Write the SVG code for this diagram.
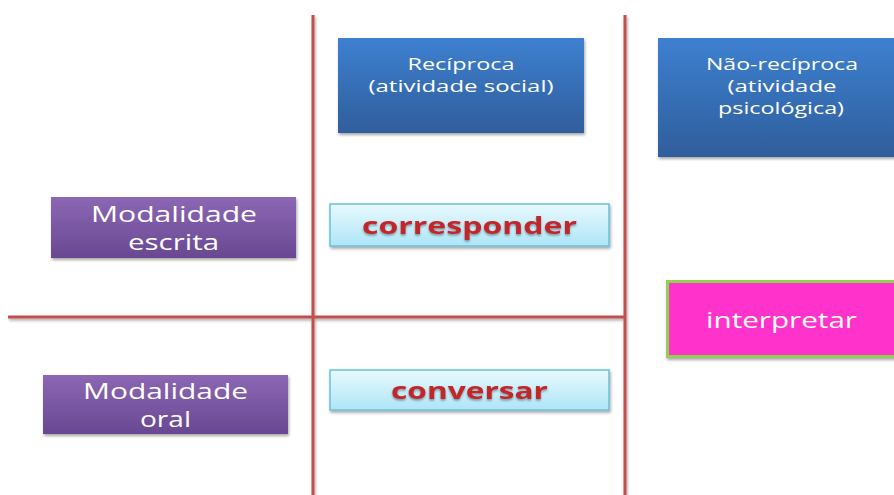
<svg xmlns="http://www.w3.org/2000/svg" width="894" height="495" viewBox="0 0 894 495">
<defs>
<linearGradient id="gBlue" x1="0" y1="0" x2="0" y2="1"><stop offset="0" stop-color="#3d80d0"/><stop offset="1" stop-color="#2f5e9c"/></linearGradient>
<linearGradient id="gPurple" x1="0" y1="0" x2="0" y2="1"><stop offset="0" stop-color="#8c67b4"/><stop offset="1" stop-color="#694891"/></linearGradient>
<linearGradient id="gCyan" x1="0" y1="0" x2="0" y2="1"><stop offset="0" stop-color="#e8f9fe"/><stop offset="1" stop-color="#aee5f7"/></linearGradient>
<filter id="sh" x="-10%" y="-10%" width="120%" height="130%"><feDropShadow dx="1" dy="2" stdDeviation="1.5" flood-color="#000" flood-opacity="0.35"/></filter>
<filter id="tsh" x="-10%" y="-20%" width="120%" height="150%"><feDropShadow dx="0" dy="1.5" stdDeviation="1" flood-color="#000" flood-opacity="0.4"/></filter>
</defs>
<style>
.ln{stroke:#c0504d;stroke-width:3;fill:none}
.t{font-family:"Open Sans","Noto Sans",sans-serif;fill:#fff;text-anchor:middle}
.s{font-size:17px}
.m{font-size:21.5px}
.r{font-family:"Open Sans","Noto Sans",sans-serif;font-weight:bold;font-size:24px;fill:#c0262a;text-anchor:middle}
</style>
<rect width="894" height="495" fill="#fff"/>
<g id="connectors" filter="url(#sh)">
<line class="ln" x1="313" y1="15" x2="313" y2="495"/>
<line class="ln" x1="625" y1="15" x2="625" y2="495"/>
<line class="ln" x1="8" y1="317" x2="625" y2="317"/>
</g>
<g id="reciproca">
<rect x="338" y="38" width="246" height="95" fill="url(#gBlue)" filter="url(#sh)"/>
<text class="t s" x="461" y="70" textLength="107" lengthAdjust="spacingAndGlyphs">Recíproca</text>
<text class="t s" x="461" y="92" textLength="185" lengthAdjust="spacingAndGlyphs">(atividade social)</text>
</g>
<g id="nao-reciproca">
<rect x="658" y="38" width="238" height="119" fill="url(#gBlue)" filter="url(#sh)"/>
<text class="t s" x="782" y="70" textLength="152" lengthAdjust="spacingAndGlyphs">Não-recíproca</text>
<text class="t s" x="782" y="92" textLength="109" lengthAdjust="spacingAndGlyphs">(atividade</text>
<text class="t s" x="781" y="114" textLength="126" lengthAdjust="spacingAndGlyphs">psicológica)</text>
</g>
<g id="mod-escrita">
<rect x="51" y="197" width="245" height="61" fill="url(#gPurple)" filter="url(#sh)"/>
<text class="t m" x="174" y="222" textLength="166" lengthAdjust="spacingAndGlyphs">Modalidade</text>
<text class="t m" x="173.5" y="250" textLength="91" lengthAdjust="spacingAndGlyphs">escrita</text>
</g>
<g id="corresponder">
<rect x="330" y="204" width="279" height="42" fill="url(#gCyan)" stroke="#69c1d8" stroke-width="1.5" filter="url(#sh)"/>
<text class="r" x="469.5" y="234" textLength="215" lengthAdjust="spacingAndGlyphs" filter="url(#tsh)">corresponder</text>
</g>
<g id="interpretar">
<rect x="667.5" y="281.5" width="230" height="75" fill="#ff33cc" stroke="#92d050" stroke-width="3" filter="url(#sh)"/>
<text class="t m" x="781.5" y="328" textLength="151" lengthAdjust="spacingAndGlyphs">interpretar</text>
</g>
<g id="mod-oral">
<rect x="43" y="375" width="245" height="59" fill="url(#gPurple)" filter="url(#sh)"/>
<text class="t m" x="165.5" y="399" textLength="165" lengthAdjust="spacingAndGlyphs">Modalidade</text>
<text class="t m" x="165.5" y="427" textLength="51" lengthAdjust="spacingAndGlyphs">oral</text>
</g>
<g id="conversar">
<rect x="330" y="370" width="279" height="40" fill="url(#gCyan)" stroke="#69c1d8" stroke-width="1.5" filter="url(#sh)"/>
<text class="r" x="469.5" y="399" textLength="157" lengthAdjust="spacingAndGlyphs" filter="url(#tsh)">conversar</text>
</g>
</svg>
